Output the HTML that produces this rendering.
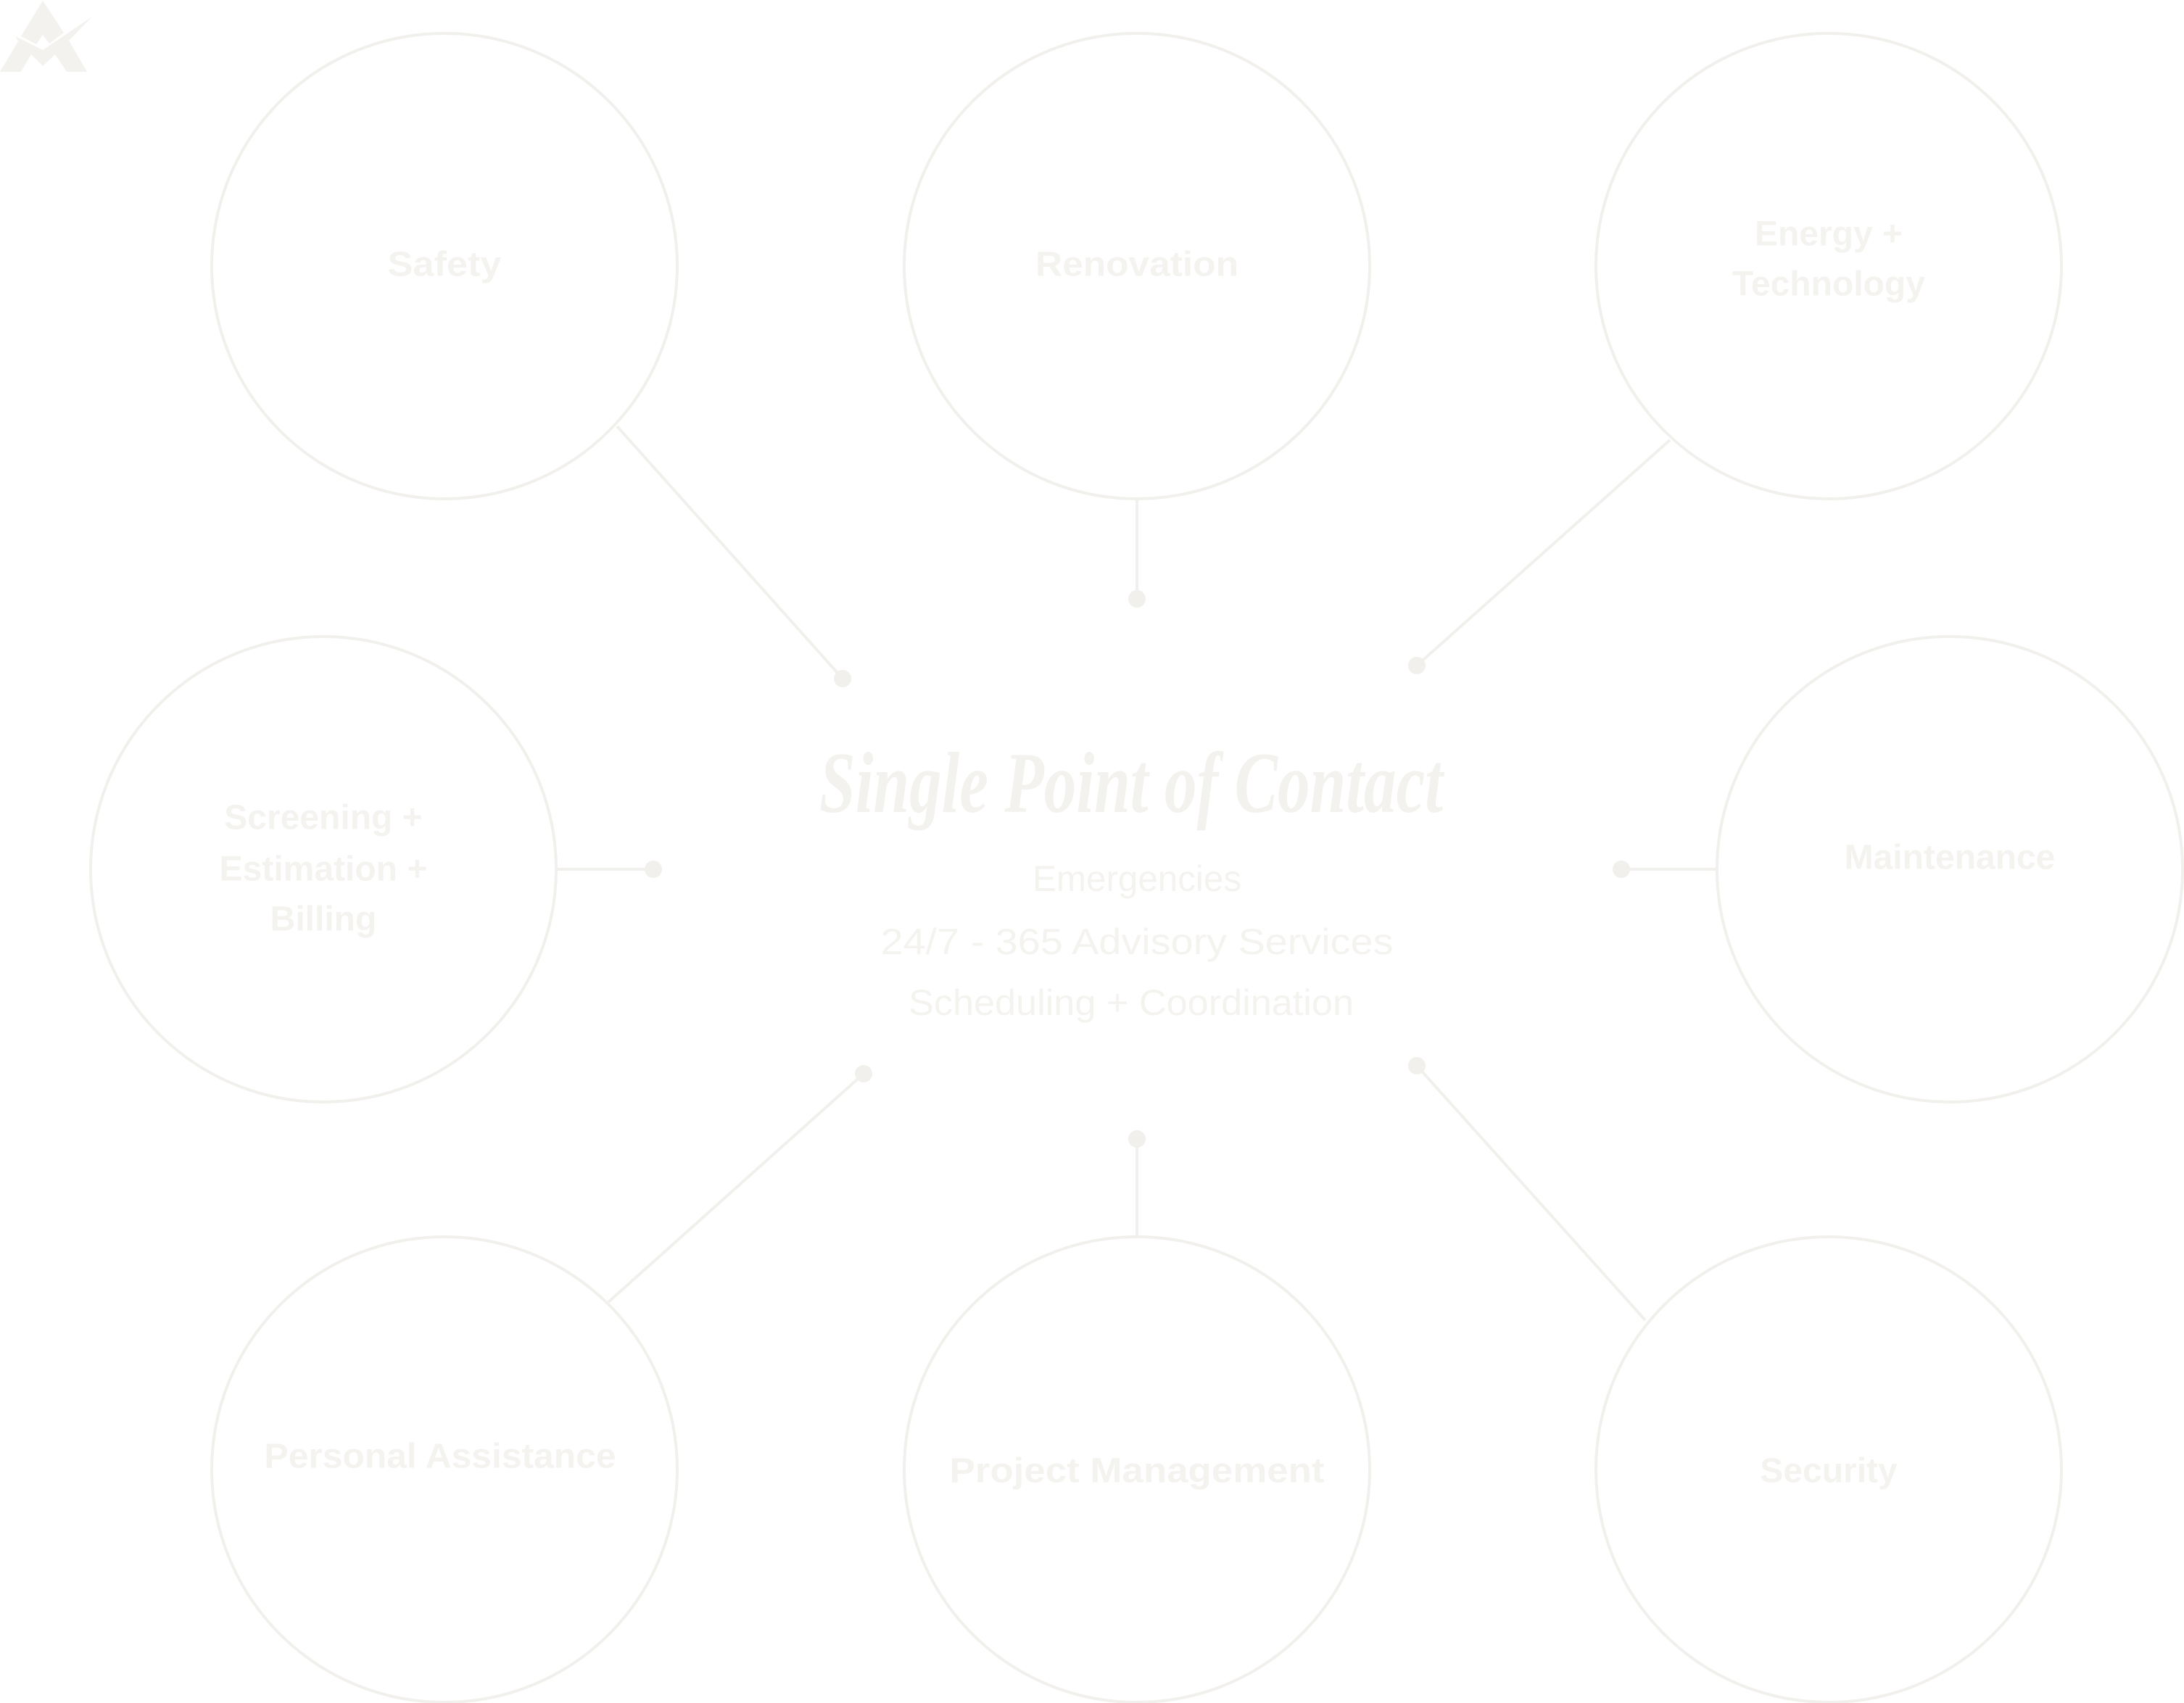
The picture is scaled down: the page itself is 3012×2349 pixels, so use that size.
<!DOCTYPE html>
<html><head><meta charset="utf-8"><style>html,body{margin:0;padding:0;background:#fff}svg{display:block}</style></head>
<body>
<svg width="3012" height="2349" viewBox="0 0 3012 2349" xmlns="http://www.w3.org/2000/svg">
<rect width="3012" height="2349" fill="#ffffff"/>
<g fill="#f3f2ee">
<polygon points="59,1 88,45 68,60 59,48 50,61 29,50"/>
<polygon points="21,50 59,69 127,23 95,56 120,99 92,99 76,75 59,91 43,75 29,99 0,99 25,57"/>
</g>
<g fill="none" stroke="#f1f0ec" stroke-width="4">
<circle cx="613" cy="367" r="321"/>
<circle cx="1568" cy="367" r="321"/>
<circle cx="2522" cy="367" r="321"/>
<circle cx="446" cy="1199" r="321"/>
<circle cx="2689" cy="1199" r="321"/>
<circle cx="613" cy="2027" r="321"/>
<circle cx="1568" cy="2027" r="321"/>
<circle cx="2522" cy="2027" r="321"/>
<line x1="851" y1="588" x2="1162" y2="936"/>
<line x1="1568" y1="690" x2="1568" y2="826"/>
<line x1="2303" y1="607" x2="1954" y2="918"/>
<line x1="766" y1="1199" x2="901" y2="1199"/>
<line x1="2369" y1="1199" x2="2236" y2="1199"/>
<line x1="839" y1="1796" x2="1191" y2="1481"/>
<line x1="1568" y1="1706" x2="1568" y2="1571"/>
<line x1="2269" y1="1821" x2="1954" y2="1470"/>
</g>
<g fill="#f1f0ec">
<circle cx="1162" cy="936" r="12"/>
<circle cx="1568" cy="826" r="12"/>
<circle cx="1954" cy="918" r="12"/>
<circle cx="901" cy="1199" r="12"/>
<circle cx="2236" cy="1199" r="12"/>
<circle cx="1191" cy="1481" r="12"/>
<circle cx="1568" cy="1571" r="12"/>
<circle cx="1954" cy="1470" r="12"/>
</g>
<g fill="#f4f3ef" font-family="Liberation Sans, sans-serif" font-size="48" font-weight="bold" text-anchor="middle" dominant-baseline="central">
<text x="613" y="365" textLength="157" lengthAdjust="spacingAndGlyphs">Safety</text>
<text x="1568" y="365" textLength="280" lengthAdjust="spacingAndGlyphs">Renovation</text>
<text x="2522" y="323">Energy +</text>
<text x="2522" y="392">Technology</text>
<text x="446" y="1128">Screening +</text>
<text x="446" y="1199">Estimation +</text>
<text x="446" y="1268">Billing</text>
<text x="2689" y="1183">Maintenance</text>
<text x="607" y="2009" textLength="485" lengthAdjust="spacingAndGlyphs">Personal Assistance</text>
<text x="1568" y="2029" textLength="517" lengthAdjust="spacingAndGlyphs">Project Management</text>
<text x="2522" y="2029">Security</text>
</g>
<text x="1560" y="1120" fill="#f3f2ee" font-family="Liberation Serif, serif" font-style="italic" font-weight="bold" font-size="120" text-anchor="middle" textLength="860" lengthAdjust="spacingAndGlyphs">Single Point of Contact</text>
<g fill="#f4f3ef" font-family="Liberation Sans, sans-serif" font-size="50" text-anchor="middle" dominant-baseline="central">
<text x="1568" y="1212" textLength="288" lengthAdjust="spacingAndGlyphs">Emergencies</text>
<text x="1568" y="1299" textLength="707" lengthAdjust="spacingAndGlyphs">24/7 - 365 Advisory Services</text>
<text x="1560" y="1383" textLength="614" lengthAdjust="spacingAndGlyphs">Scheduling + Coordination</text>
</g>
</svg>
</body></html>
